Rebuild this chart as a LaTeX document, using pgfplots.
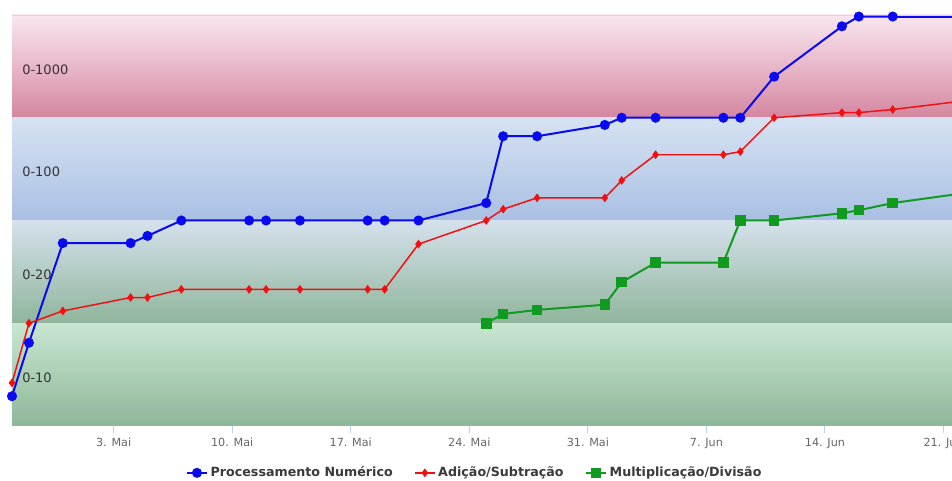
\documentclass[border=0pt]{standalone}
\usepackage{fontspec}
\setmainfont{DejaVu Sans}
\usepackage{pgfplots}
\pgfplotsset{compat=1.18}

% band gradients
\definecolor{bandAtop}{HTML}{F8E6EF}
\definecolor{bandAmid}{HTML}{E8B7C9}
\definecolor{bandAbot}{HTML}{D4869F}
\definecolor{bandBtop}{HTML}{D6E2F2}
\definecolor{bandBbot}{HTML}{A9C0E3}
\definecolor{bandCtop}{HTML}{D5E1EC}
\definecolor{bandCbot}{HTML}{8FB59B}
\definecolor{bandDtop}{HTML}{C8E6D0}
\definecolor{bandDbot}{HTML}{8EB799}
% series and text
\definecolor{serBlue}{HTML}{0A0AF0}
\definecolor{serRed}{HTML}{F01010}
\definecolor{serGreen}{HTML}{109A20}
\definecolor{tickc}{HTML}{C0D0E0}
\definecolor{tickl}{HTML}{666666}
\definecolor{legc}{HTML}{3A3A3A}
\definecolor{bandtxt}{HTML}{333333}
\definecolor{topline}{HTML}{D8D8D8}

\begin{document}
\begin{tikzpicture}
\useasboundingbox (0,0) rectangle (714pt,360.75pt);
\begin{axis}[
  at={(9pt,41.25pt)}, anchor=south west,
  scale only axis, width=705pt, height=308.25pt,
  xmin=-3, xmax=52.5, ymin=0, ymax=4,
  axis line style={draw=none},
  ytick=\empty,
  xtick={3,10,17,24,31,38,45,52},
  xticklabels={3. Mai,10. Mai,17. Mai,24. Mai,31. Mai,7. Jun,14. Jun,21. Jun},
  xtick pos=bottom, tick align=outside, major tick length=5.5pt,
  tick style={draw=tickc, line width=0.75pt},
  xticklabel style={font=\fontsize{8.4}{10}\selectfont, text=tickl},
  legend columns=3,
  legend cell align=left,
  legend style={at={(0.4926,-0.114)}, anchor=center, draw=none, fill=none,
    font=\bfseries\fontsize{9.5}{11}\selectfont, text=legc,
    /tikz/every even column/.append style={column sep=14pt}},
  legend image code/.code={\draw[mark repeat=2,mark phase=2] plot coordinates {(0pt,0pt)(7.5pt,0pt)(15pt,0pt)};},
]
% plot bands
\fill[top color=bandAtop, bottom color=bandAbot, middle color=bandAmid] (axis cs:-3,3) rectangle (axis cs:52.5,4);
\fill[top color=bandBtop, bottom color=bandBbot] (axis cs:-3,2) rectangle (axis cs:52.5,3);
\fill[top color=bandCtop, bottom color=bandCbot] (axis cs:-3,1) rectangle (axis cs:52.5,2);
\fill[top color=bandDtop, bottom color=bandDbot] (axis cs:-3,0) rectangle (axis cs:52.5,1);
\draw[topline, line width=0.6pt] (axis cs:-3,4) -- (axis cs:52.5,4);

\tikzset{bandlabel/.style={anchor=west, inner sep=0pt, font=\fontsize{9.75}{11}\selectfont, text=bandtxt}}
\node[bandlabel] at (axis cs:-2.41,3.47) {0-1000};
\node[bandlabel] at (axis cs:-2.41,2.47) {0-100};
\node[bandlabel] at (axis cs:-2.41,1.47) {0-20};
\node[bandlabel] at (axis cs:-2.41,0.47) {0-10};

% trailing segments running past the right edge
\addplot[forget plot, serBlue, line width=1.5pt] coordinates {(49,3.985) (54,3.985)};
\addplot[forget plot, serRed, line width=1.1pt] coordinates {(49,3.08) (52.5,3.15)};
\addplot[forget plot, serGreen, line width=1.5pt] coordinates {(49,2.17) (52.5,2.25)};

\addplot[serBlue, line width=1.5pt, mark=*, mark size=3pt, mark options={solid}] coordinates {
  (-3,0.29) (-2,0.81) (0,1.78) (4,1.78) (5,1.85) (7,2.0) (11,2.0) (12,2.0)
  (14,2.0) (18,2.0) (19,2.0) (21,2.0) (25,2.17) (26,2.82) (28,2.82)
  (32,2.93) (33,3.0) (35,3.0) (39,3.0) (40,3.0) (42,3.40) (46,3.89)
  (47,3.985) (49,3.985)
};
\addlegendentry{Processamento Numérico}

\addplot[serRed, line width=1.1pt, mark=diamond*, mark size=2.4pt, mark options={solid}] coordinates {
  (-3,0.42) (-2,1.0) (0,1.12) (4,1.25) (5,1.25) (7,1.33) (11,1.33) (12,1.33)
  (14,1.33) (18,1.33) (19,1.33) (21,1.77) (25,2.0) (26,2.11) (28,2.22)
  (32,2.22) (33,2.39) (35,2.64) (39,2.64) (40,2.67) (42,3.0) (46,3.05)
  (47,3.05) (49,3.08)
};
\addlegendentry{Adição/Subtração}

\addplot[serGreen, line width=1.5pt, mark=square*, mark size=3.2pt, mark options={solid}] coordinates {
  (25,1.0) (26,1.09) (28,1.13) (32,1.18) (33,1.40) (35,1.59) (39,1.59)
  (40,2.0) (42,2.0) (46,2.07) (47,2.10) (49,2.17)
};
\addlegendentry{Multiplicação/Divisão}
\end{axis}
\end{tikzpicture}
\end{document}
